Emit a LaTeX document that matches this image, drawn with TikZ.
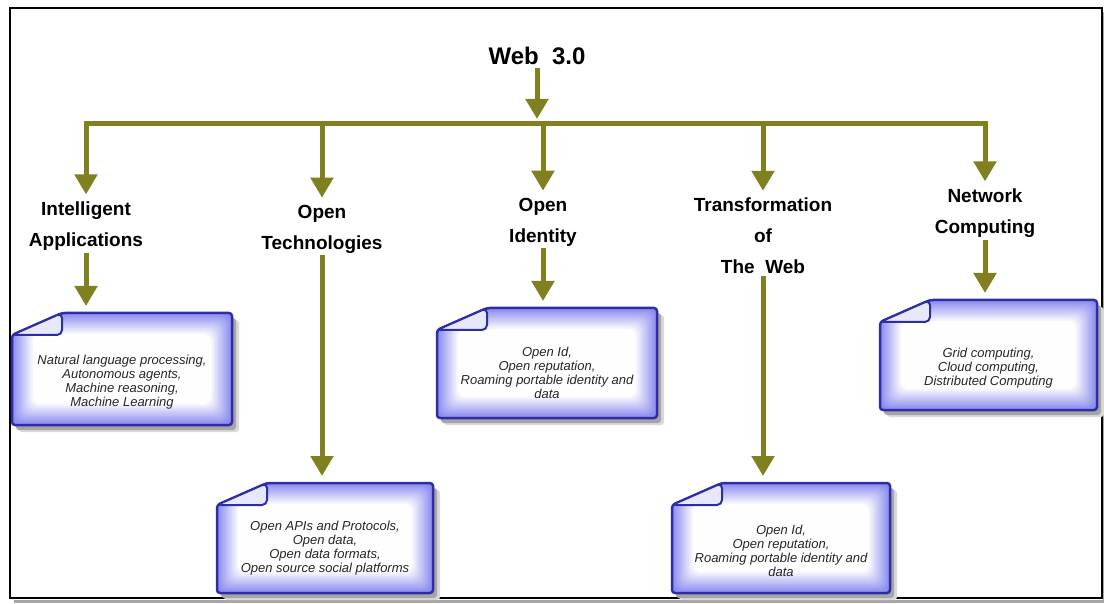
\documentclass[tikz,border=0pt]{standalone}
\usepackage{fontspec}
\setmainfont{Liberation Sans}
\usetikzlibrary{arrows.meta,calc}

\definecolor{arrowolive}{RGB}{128,128,32}
\definecolor{noteblue}{RGB}{45,45,165}
\definecolor{noteglow}{RGB}{140,140,240}

\tikzset{
  link/.style={draw=arrowolive, line width=5pt},
  arr/.style={link, -{Triangle[width=22pt,length=20pt]}},
  title/.style={font=\fontsize{24}{28}\selectfont\bfseries, inner sep=3pt},
  topic/.style={font=\fontsize{19}{31}\selectfont\bfseries, align=center, inner sep=2pt},
  notebox/.style={inner sep=0pt, outer sep=0pt, anchor=north west},
  notetext/.style={font=\fontsize{13}{14}\selectfont\itshape, text=black!85, align=center, inner sep=1pt}
}

\begin{document}
\begin{tikzpicture}[x=1pt,y=-1pt]
\useasboundingbox (0,0) rectangle (1104,604);

% frame
\draw[black!35, line width=3pt] (14,601) -- (1104,601) -- (1104,12);
\draw[line width=2.5pt] (10,8) rectangle (1102,598);

\node[title] (web) at (537,56) {Web~~3.0};
\coordinate (bar) at (537,124);

\node[topic] (ia) at (86,226) {Intelligent\\Applications};
\node[topic] (ot) at (322,229) {Open\\Technologies};
\node[topic] (oi) at (543,222) {Open\\Identity};
\node[topic] (tw) at (763,236) {Transformation\\of\\The~~Web};
\node[topic] (nc) at (985,213) {Network\\Computing};

\node[notebox, minimum width=220pt, minimum height=112pt] (iabox) at (12,313) {};
\node[notebox, minimum width=216pt, minimum height=110pt] (otbox) at (217,483) {};
\node[notebox, minimum width=220pt, minimum height=110pt] (oibox) at (437,308) {};
\node[notebox, minimum width=218pt, minimum height=110pt] (twbox) at (672,483) {};
\node[notebox, minimum width=217pt, minimum height=110pt] (ncbox) at (880,300) {};

% folded notes
\foreach \b in {iabox,otbox,oibox,twbox,ncbox}{
  \coordinate (\b-a) at ($(\b.north west)+(0,22)$);
  \coordinate (\b-f) at ($(\b.north west)+(50,0)$);
  \fill[black!15, rounded corners=3pt, transform canvas={shift={(7pt,-7pt)}}]
    (\b-a) -- (\b-f) -- (\b.north east) -- (\b.south east) -- (\b.south west) -- cycle;
  \fill[black!35, rounded corners=3pt, transform canvas={shift={(4pt,-5pt)}}]
    (\b-a) -- (\b-f) -- (\b.north east) -- (\b.south east) -- (\b.south west) -- cycle;
  \begin{scope}
    \clip[rounded corners=3pt] (\b-a) -- (\b-f) -- (\b.north east) -- (\b.south east) -- (\b.south west) -- cycle;
    \fill[noteglow] (\b.north west) rectangle (\b.south east);
    \foreach \i [evaluate=\i as \pct using int(100-9*\i)] in {1,...,11}
      \fill[noteglow!\pct!white, rounded corners=8pt]
        ($(\b.north west)+(1.9*\i,1.9*\i)$) rectangle ($(\b.south east)+(-1.9*\i,-1.9*\i)$);
  \end{scope}
  \draw[noteblue, line width=2.5pt, rounded corners=3pt, line join=round]
    (\b-a) -- (\b-f) -- (\b.north east) -- (\b.south east) -- (\b.south west) -- cycle;
  \filldraw[fill=noteglow!20!white, draw=noteblue, line width=2pt, line join=round, rounded corners=5pt]
    (\b-a) -- (\b-f) -- ($(\b.north west)+(50,22)$) -- cycle;
}

\node[notetext] at ([yshift=-13pt]iabox.center) {Natural language processing,\\Autonomous agents,\\Machine reasoning,\\Machine Learning};
\node[notetext] at ([yshift=-10pt]otbox.center) {Open APIs and Protocols,\\Open data,\\Open data formats,\\Open source social platforms};
\node[notetext] at ([yshift=-10pt]oibox.center) {Open Id,\\Open reputation,\\Roaming portable identity and\\data};
\node[notetext] at ([yshift=-13pt]twbox.center) {Open Id,\\Open reputation,\\Roaming portable identity and\\data};
\node[notetext] at ([yshift=-13pt]ncbox.center) {Grid computing,\\Cloud computing,\\Distributed Computing};

% connectors
\draw[arr, shorten >=5pt] (web) -- (web |- bar);
\draw[link, line cap=rect] (ia.north |- bar) -- (nc.north |- bar);
\foreach \t in {ia,ot,oi,tw,nc}
  \draw[arr, shorten >=5pt] (\t.north |- bar) -- (\t.north);
\foreach \t in {ia,ot,oi,tw,nc}
  \draw[arr, shorten >=7pt] (\t) -- (\t |- \t box.north);
\end{tikzpicture}
\end{document}
